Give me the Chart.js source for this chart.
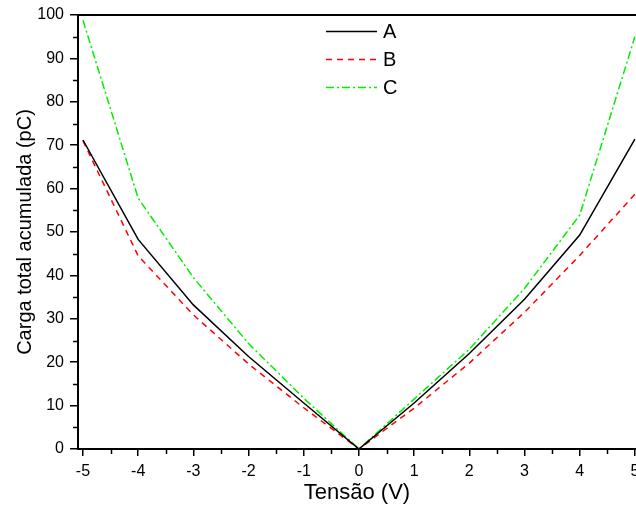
<!DOCTYPE html>
<html>
<head>
<meta charset="utf-8">
<script src="https://cdn.jsdelivr.net/npm/chart.js@4"></script>
<style>
  html, body { margin: 0; padding: 0; background: #fff; }
  #wrap { width: 636px; height: 507px; }
</style>
</head>
<body>
<div id="wrap"><canvas id="chart"></canvas></div>
<script>
const tensao = [-5, -4, -3, -2, -1, 0, 1, 2, 3, 4, 5];
const serieA = [71.2, 48.3, 33.2, 21.3, 10.6, 0, 10.6, 22.0, 34.5, 49.3, 71.4];
const serieB = [71.0, 44.5, 30.9, 19.6, 9.5, 0, 9.4, 19.8, 31.5, 44.6, 58.7];
const serieC = [98.8, 57.8, 39.5, 24.3, 11.7, 0, 11.5, 23.0, 37.0, 53.9, 95.0];
const xTicks = [-5, -4, -3, -2, -1, 0, 1, 2, 3, 4, 5];
const yTicks = [0, 10, 20, 30, 40, 50, 60, 70, 80, 90, 100];

const FONT = "'Liberation Sans', Arial, sans-serif";

function pts(ys) {
    return tensao.map((x, i) => ({ x: x, y: ys[i] }));
}

// moldura de cima + ticks menores
const framePlugin = {
    id: 'frame',
    afterDraw(chart) {
        const { ctx, chartArea, scales } = chart;
        ctx.save();
        ctx.strokeStyle = '#000';
        ctx.lineWidth = 2;
        ctx.beginPath();
        ctx.moveTo(chartArea.left, chartArea.top);
        ctx.lineTo(chartArea.right, chartArea.top);
        ctx.stroke();

        ctx.lineWidth = 1.5;
        ctx.beginPath();
        for (let i = 0; i < xTicks.length - 1; i++) {
            const px = Math.round(scales.x.getPixelForValue((xTicks[i] + xTicks[i + 1]) / 2)) + 0.5;
            ctx.moveTo(px, chartArea.bottom);
            ctx.lineTo(px, chartArea.bottom + 5);
        }
        for (let i = 0; i < yTicks.length - 1; i++) {
            const py = Math.round(scales.y.getPixelForValue((yTicks[i] + yTicks[i + 1]) / 2)) + 0.5;
            ctx.moveTo(chartArea.left, py);
            ctx.lineTo(chartArea.left - 5, py);
        }
        ctx.stroke();
        ctx.restore();
    }
};

// legenda dentro do gráfico
const legendPlugin = {
    id: 'innerLegend',
    afterDraw(chart) {
        const { ctx } = chart;
        ctx.save();
        ctx.font = '20px ' + FONT;
        ctx.textBaseline = 'middle';
        ctx.fillStyle = '#000';
        chart.data.datasets.forEach((ds, i) => {
            const y = 31 + i * 28;
            ctx.strokeStyle = ds.borderColor;
            ctx.lineWidth = ds.borderWidth;
            ctx.setLineDash(ds.borderDash || []);
            ctx.beginPath();
            ctx.moveTo(326, y + 0.5);
            ctx.lineTo(377, y + 0.5);
            ctx.stroke();
            ctx.setLineDash([]);
            ctx.fillText(ds.label, 383, y + 1);
        });
        ctx.restore();
    }
};

new Chart(document.getElementById('chart'), {
    type: 'line',
    data: {
        datasets: [
            { label: 'A', data: pts(serieA), borderColor: '#000000', borderWidth: 1.5, pointRadius: 0, fill: false },
            { label: 'B', data: pts(serieB), borderColor: '#ff0000', borderWidth: 1.5, borderDash: [6, 5], pointRadius: 0, fill: false },
            { label: 'C', data: pts(serieC), borderColor: '#00ee00', borderWidth: 1.5, borderDash: [8, 3, 2, 3], pointRadius: 0, fill: false }
        ]
    },
    options: {
        responsive: true,
        maintainAspectRatio: false,
        animation: false,
        layout: { padding: { left: 13, top: 15, right: 0, bottom: 1 } },
        plugins: {
            legend: { display: false },
            tooltip: { enabled: false }
        },
        scales: {
            x: {
                type: 'linear',
                min: -5.09,
                max: 5.02,
                afterBuildTicks: (s) => { s.ticks = xTicks.map(v => ({ value: v })); },
                afterFit: (s) => { s.height = 57; s.paddingRight = 0; s.paddingLeft = 0; },
                grid: { drawOnChartArea: false, drawTicks: true, tickLength: 7, color: '#000', lineWidth: 1.5 },
                border: { display: true, color: '#000', width: 2 },
                ticks: { color: '#000', font: { family: FONT, size: 16 }, padding: 6, maxRotation: 0 },
                title: { display: true, text: 'Tensão (V)', color: '#000', padding: 0, font: { family: FONT, size: 22 } }
            },
            y: {
                min: 0,
                max: 100,
                afterBuildTicks: (s) => { s.ticks = yTicks.map(v => ({ value: v })); },
                afterFit: (s) => { s.width = 65; s.paddingTop = 0; s.paddingBottom = 0; },
                grid: { drawOnChartArea: false, drawTicks: true, tickLength: 8, color: '#000', lineWidth: 1.5 },
                border: { display: true, color: '#000', width: 2 },
                ticks: { color: '#000', font: { family: FONT, size: 16 }, padding: 6 },
                title: { display: true, text: 'Carga total acumulada (pC)', color: '#000', padding: 0, font: { family: FONT, size: 20 } }
            }
        }
    },
    plugins: [framePlugin, legendPlugin]
});
</script>
</body>
</html>
